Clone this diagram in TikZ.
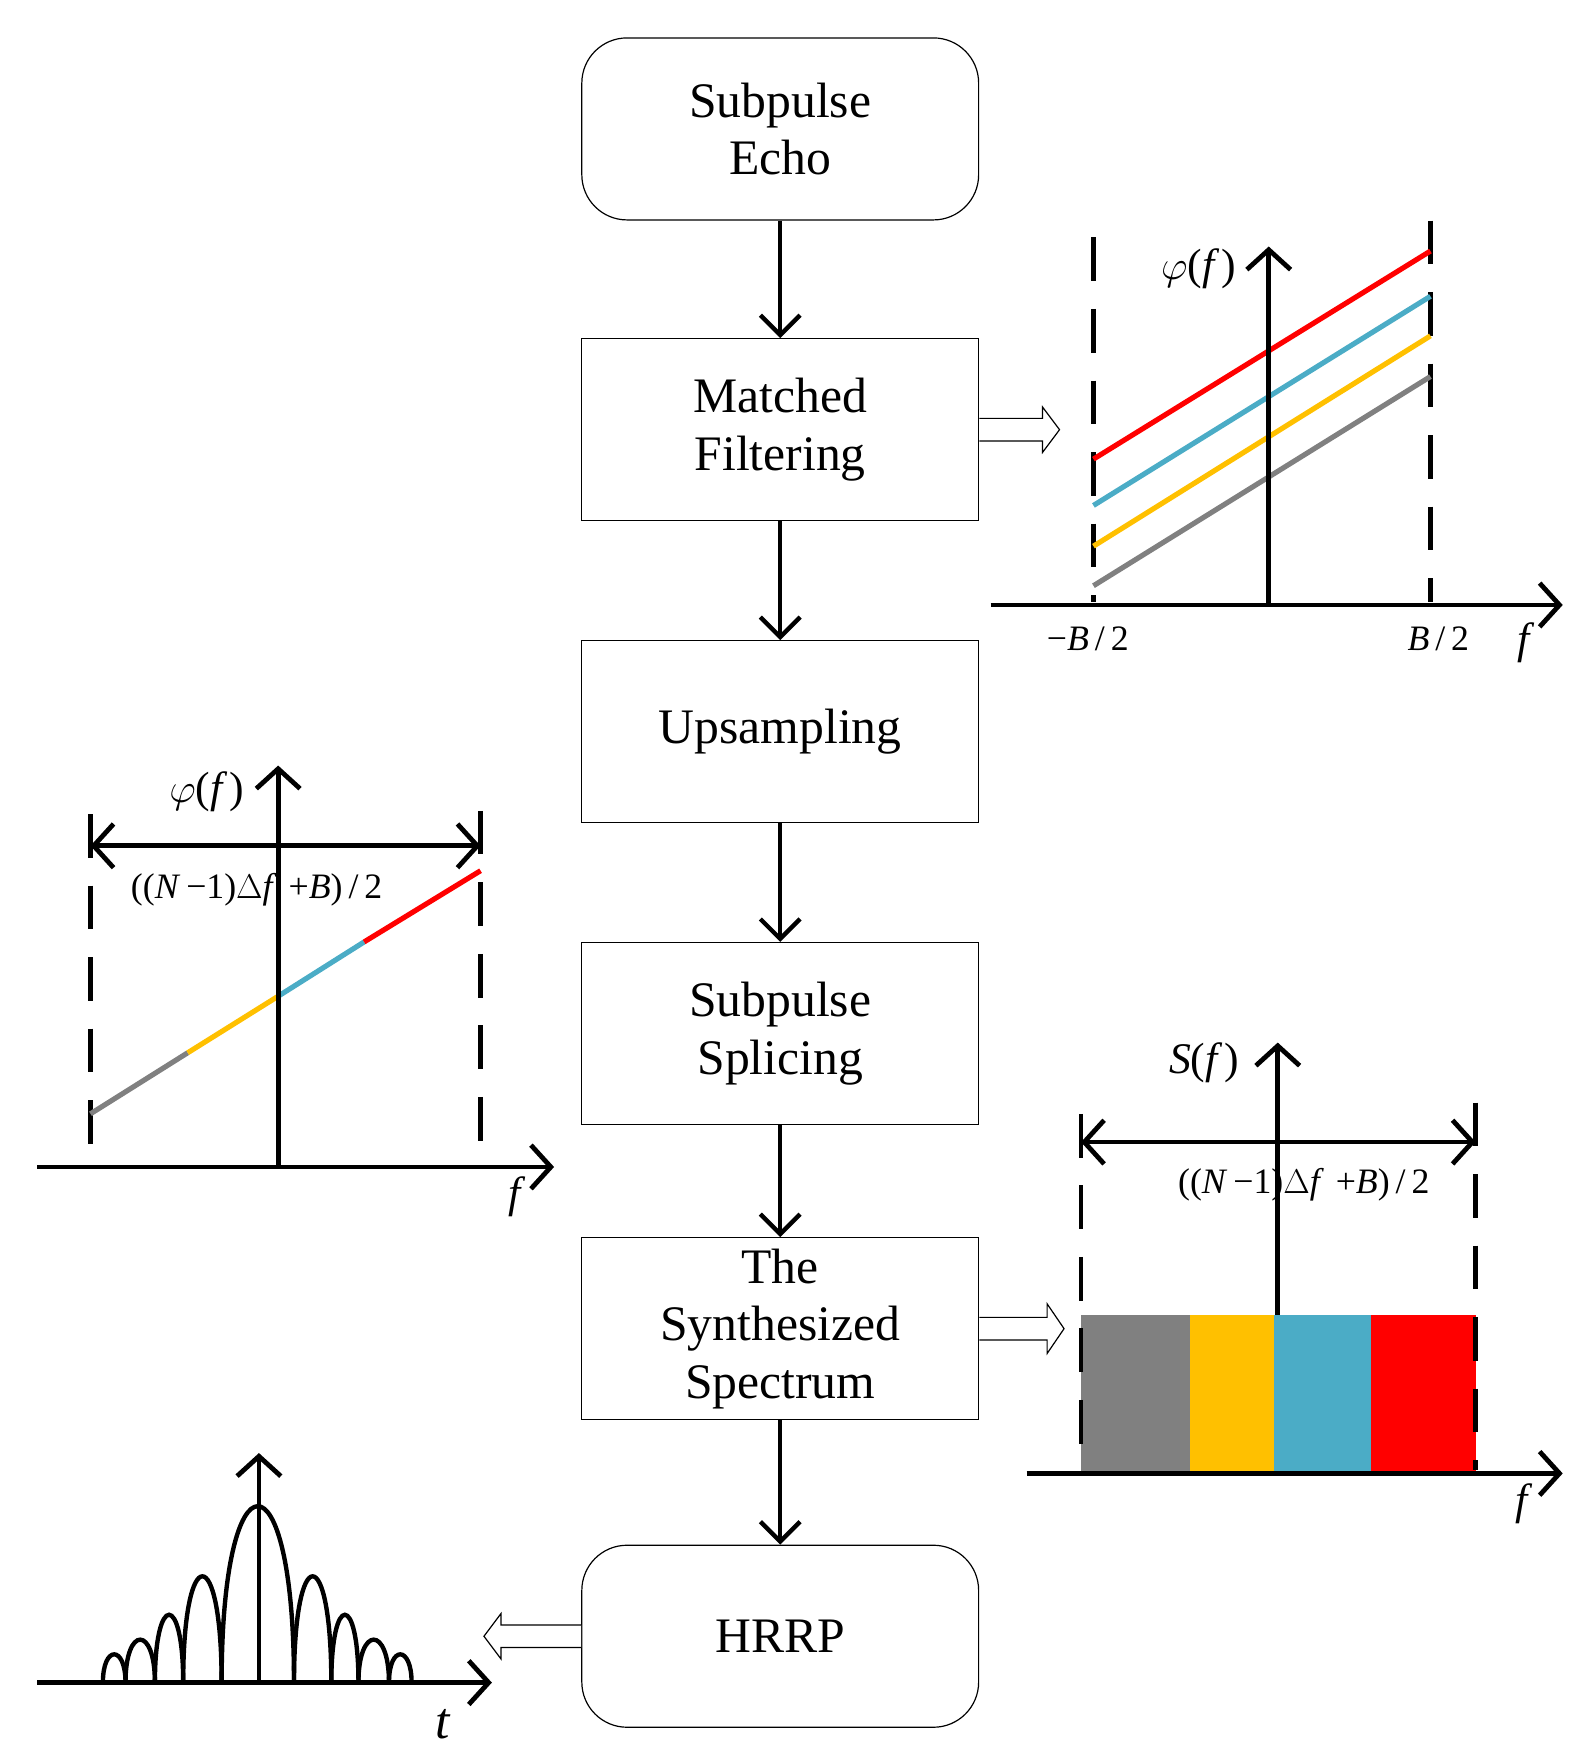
\documentclass[tikz,border=0pt]{standalone}
\usepackage{fontspec}
\setmainfont{Liberation Serif}
\usetikzlibrary{arrows.meta}
\definecolor{cg}{RGB}{128,128,128}
\definecolor{cy}{RGB}{255,192,0}
\definecolor{cb}{RGB}{75,172,198}
\definecolor{cr}{RGB}{255,0,0}
\begin{document}
\begin{tikzpicture}[x=0.02cm,y=-0.02cm,
 box/.style={draw,line width=0.6pt,minimum width=7.02cm,minimum height=3.22cm,align=center,font=\fontsize{25}{29}\selectfont,inner sep=0pt},
 rbox/.style={box,rounded corners=0.8cm},
 flow/.style={line width=2.2pt,-{Straight Barb[length=10pt,width=20pt,line width=2.2pt]}},
 ax/.style={line width=2.4pt,-{Straight Barb[length=10pt,width=22pt,line width=2.4pt]}},
 dax/.style={line width=2.4pt,{Straight Barb[length=10pt,width=22pt,line width=2.4pt]}-{Straight Barb[length=10pt,width=22pt,line width=2.4pt]}},
 dsh/.style={line width=2.4pt,dash pattern=on 22pt off 14pt},
 col/.style={line width=2.6pt},
 lab/.style={font=\fontsize{18}{20}\selectfont,inner sep=0pt},
 hol/.style={draw,line width=0.6pt,fill=white}]
\useasboundingbox (0,0) rectangle (1410,1560);
% boxes
\node[rbox] (echo) at (690,114) {Subpulse\\Echo};
\node[box] (mf) at (690,380) {Matched\\Filtering};
\node[box] (up) at (690,647) {Upsampling};
\node[box] (sp) at (690,914) {Subpulse\\Splicing};
\node[box] (syn) at (690,1175) {The\\Synthesized\\Spectrum};
\node[rbox] (hrrp) at (690,1447) {HRRP};
\draw[flow] (echo) -- (mf);
\draw[flow] (mf) -- (up);
\draw[flow] (up) -- (sp);
\draw[flow] (sp) -- (syn);
\draw[flow] (syn) -- (hrrp);
% hollow arrows
\draw[hol] (866,370) -- (922,370) -- (922,360) -- (937,380) -- (922,400) -- (922,390) -- (866,390);
\draw[hol] (866,1165) -- (926,1165) -- (926,1153) -- (941,1175) -- (926,1197) -- (926,1185) -- (866,1185);
\draw[hol] (514,1437) -- (443,1437) -- (443,1427) -- (428,1447) -- (443,1467) -- (443,1457) -- (514,1457);
% plot 1
\coordinate (p1o) at (876,535); \coordinate (p1e) at (1382,535);
\coordinate (p1b) at (1122,535); \coordinate (p1t) at (1122,218);
\draw[dsh] (967,210) -- (967,532);
\draw[dsh] (1265,195) -- (1265,532);
\draw[col,cr] (967,406) -- (1265,222);
\draw[col,cb] (967,447) -- (1265,262);
\draw[col,cy] (967,483) -- (1265,297);
\draw[col,cg] (967,518) -- (1265,333);
\draw[ax] (p1o) -- (p1e);
\draw[ax] (p1b) -- (p1t);
\node[lab] (l1) at (1060,238) {\fontsize{22}{24}\selectfont$\varphi$(\textit{f\,})};
\node[lab] (l2) at (962,565) {\textminus\textit{B}\,/\,2};
\node[lab] (l3) at (1272,565) {\textit{B}\,/\,2};
\node[lab] (l4) at (1350,568) {\fontsize{22}{24}\selectfont\textit{f}};
% plot 2 left
\draw[dsh] (80,720) -- (80,1030);
\draw[dsh] (425,717) -- (425,1030);
\draw[col,cg] (80,985) -- (166,931);
\draw[col,cy] (166,931) -- (246,881);
\draw[col,cb] (246,881) -- (322,833);
\draw[col,cr] (322,833) -- (425,770);
\draw[ax] (33,1032) -- (490,1032);
\draw[ax] (246,1032) -- (246,677);
\draw[dax] (80,748) -- (425,748);
\node[lab] (l5) at (227,787) {((\textit{N}\,\textminus1)$\Delta$\textit{f}\,\,+\textit{B})\,/\,2};
\node[lab] (l6) at (183,700) {\fontsize{22}{24}\selectfont$\varphi$(\textit{f\,})};
\node[lab] (l7) at (457,1058) {\fontsize{22}{24}\selectfont\textit{f}};
% plot 3
\fill[cg] (956,1163) rectangle (1052,1303);
\fill[cy] (1052,1163) rectangle (1127,1303);
\fill[cb] (1127,1163) rectangle (1212,1303);
\fill[cr] (1212,1163) rectangle (1305,1303);
\draw[dsh] (956,985) -- (956,1300);
\draw[dsh] (1305,975) -- (1305,1300);
\draw[ax] (908,1303) -- (1382,1303);
\draw[ax] (1130,1163) -- (1130,922);
\draw[dax] (956,1010) -- (1305,1010);
\node[lab] (l8) at (1153,1048) {((\textit{N}\,\textminus1)$\Delta$\textit{f}\,\,+\textit{B})\,/\,2};
\node[lab] (l9) at (1065,940) {\fontsize{22}{24}\selectfont\textit{S}(\textit{f\,})};
\node[lab] (l10) at (1348,1330) {\fontsize{22}{24}\selectfont\textit{f}};
% plot 4 HRRP
\begin{scope}[line width=2.2pt]
\foreach \a/\b/\h in {91/111/1463,111/137/1450,137/162/1428,162/196/1394,196/260/1332,260/293/1394,293/317/1428,317/344/1450,344/364/1463}{
 \draw (\a,1488) .. controls (\a,{1488-(1488-\h)*4/3}) and (\b,{1488-(1488-\h)*4/3}) .. (\b,1488);
}
\end{scope}
\draw[ax] (33,1488) -- (435,1488);
\draw[ax] (229,1488) -- (229,1285);
\node[lab] (l11) at (392,1525) {\fontsize{26}{28}\selectfont\textit{t}};
\end{tikzpicture}
\end{document}
